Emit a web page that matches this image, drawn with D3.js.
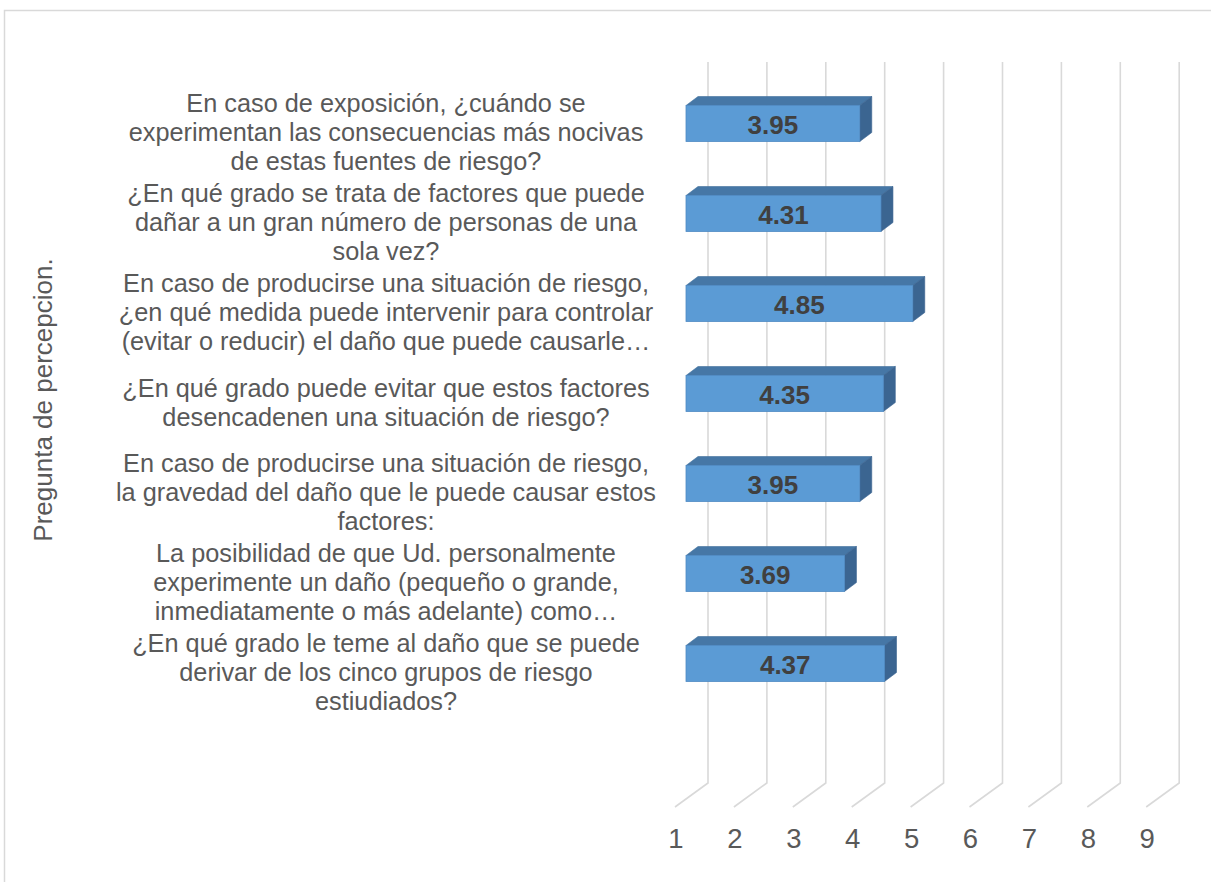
<!DOCTYPE html>
<html>
<head>
<meta charset="utf-8">
<script src="https://cdn.jsdelivr.net/npm/d3@7/dist/d3.min.js"></script>
<style>
  html, body { margin: 0; padding: 0; background: #fff; }
  svg { display: block; font-family: "Liberation Sans", Arial, sans-serif; }
</style>
</head>
<body>
<svg id="chart" width="1211" height="882"></svg>
<script>
// ---- data ----
const categories = [
  "En caso de exposición, ¿cuándo se\nexperimentan las consecuencias más nocivas\nde estas fuentes de riesgo?",
  "¿En qué grado se trata de factores que puede\ndañar a un gran número de personas de una\nsola vez?",
  "En caso de producirse una situación de riesgo,\n¿en qué medida puede intervenir para controlar\n(evitar o reducir) el daño que puede causarle…",
  "¿En qué grado puede evitar que estos factores\ndesencadenen una situación de riesgo?",
  "En caso de producirse una situación de riesgo,\nla gravedad del daño que le puede causar estos\nfactores:",
  "La posibilidad de que Ud. personalmente\nexperimente un daño (pequeño o grande,\ninmediatamente o más adelante) como…",
  "¿En qué grado le teme al daño que se puede\nderivar de los cinco grupos de riesgo\nestiudiados?"
];
const values = [3.95, 4.31, 4.85, 4.35, 3.95, 3.69, 4.37];
const tickValues = [1, 2, 3, 4, 5, 6, 7, 8, 9];
const axisTitle = "Pregunta de percepcion.";

// ---- layout ----
const svg = d3.select("#chart");
const frontLeft = 675, frontRight = 675 + 8 * 58.9;
const frontTop = 86, frontBottom = 806;
const depthX = 33, depthY = -24;           // floor-front -> back wall
const barDx = 11, barDy = -7.5;             // floor-front -> bar front face
const barDepthX = 12, barDepthY = -9;       // bar front -> bar back

const x = d3.scaleLinear().domain([1, 9]).range([frontLeft, frontRight]);
// eight slots: seven categories plus an empty slot at the bottom
const slots = categories.map((d, i) => i).concat([categories.length]);
const y = d3.scaleBand().domain(slots).range([frontTop, frontBottom]).paddingInner(0.6).paddingOuter(0.3);

// chart frame
svg.append("rect")
  .attr("x", 4.5).attr("y", 10.5).attr("width", 1300).attr("height", 1000)
  .attr("fill", "none").attr("stroke", "#D9D9D9").attr("stroke-width", 1.5);

// gridlines (3D: floor diagonal then up the back wall)
svg.append("g").selectAll("path").data(tickValues).join("path")
  .attr("d", t => {
    const x0 = x(t);
    return `M${x0},${frontBottom + 1}L${x0 + depthX},${frontBottom + 1 + depthY}L${x0 + depthX},${frontTop + depthY}`;
  })
  .attr("fill", "none").attr("stroke", "#D9D9D9").attr("stroke-width", 1.6);

// tick labels
svg.append("g").selectAll("text").data(tickValues).join("text")
  .attr("x", t => x(t) + 1)
  .attr("y", 848)
  .attr("text-anchor", "middle")
  .attr("font-size", 27.5)
  .attr("fill", "#595959")
  .text(t => t);

// bars
const bars = svg.append("g").selectAll("g").data(values).join("g");
const x0 = x(1) + barDx;
bars.each(function(v, i) {
  const g = d3.select(this);
  const bw = y.bandwidth();
  const yt = y(i) + barDy, yb = yt + bw;
  const xl = x0, xr = x(v) + barDx;
  g.append("path")
    .attr("d", `M${xl},${yt}L${xr},${yt}L${xr + barDepthX},${yt + barDepthY}L${xl + barDepthX},${yt + barDepthY}Z`)
    .attr("fill", "#4677A6").attr("stroke", "#41709C").attr("stroke-width", 0.6);
  g.append("path")
    .attr("d", `M${xr},${yt}L${xr + barDepthX},${yt + barDepthY}L${xr + barDepthX},${yb + barDepthY}L${xr},${yb}Z`)
    .attr("fill", "#3B6591").attr("stroke", "#3A6390").attr("stroke-width", 0.6);
  g.append("rect")
    .attr("x", xl).attr("y", yt).attr("width", xr - xl).attr("height", bw)
    .attr("fill", "#5B9BD5").attr("stroke", "#4F8BC4").attr("stroke-width", 0.8);
  g.append("text")
    .attr("x", (xl + xr) / 2)
    .attr("y", yt + bw / 2 + 1)
    .attr("dy", "0.36em")
    .attr("text-anchor", "middle")
    .attr("font-size", 26)
    .attr("font-weight", "bold")
    .attr("fill", "#404040")
    .text(v.toFixed(2));
});

// category labels
const labelCenterX = 386;
const lineH = 29;
const labels = svg.append("g").selectAll("text").data(categories).join("text")
  .attr("text-anchor", "middle")
  .attr("font-size", 25.3)
  .attr("fill", "#595959");
labels.each(function(c, i) {
  const lines = c.split("\n");
  const cy = y(i) + y.bandwidth() / 2 + 1;
  const t = d3.select(this);
  lines.forEach((ln, k) => {
    t.append("tspan")
      .attr("x", labelCenterX)
      .attr("y", cy + (k - (lines.length - 1) / 2) * lineH)
      .attr("dy", "0.36em")
      .text(ln);
  });
});

// axis title
svg.append("text")
  .attr("transform", "translate(52,400) rotate(-90)")
  .attr("text-anchor", "middle")
  .attr("font-size", 26)
  .attr("fill", "#595959")
  .text(axisTitle);
</script>
</body>
</html>
